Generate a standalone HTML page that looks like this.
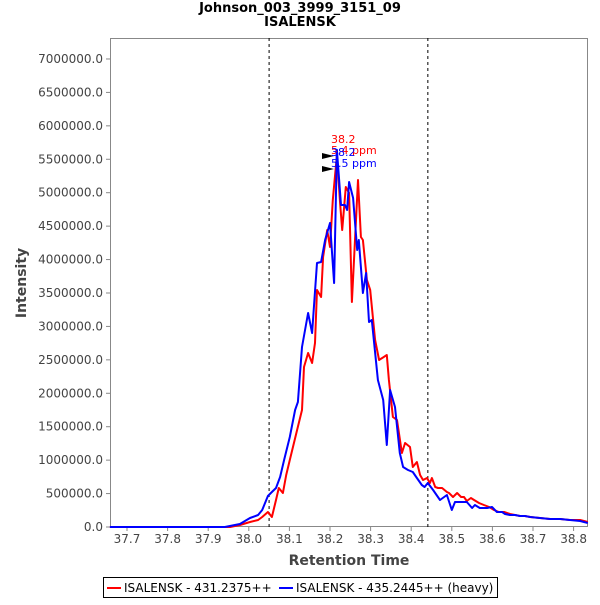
<!DOCTYPE html>
<html><head><meta charset="utf-8"><style>
body{margin:0;background:#fff;font-family:"Liberation Sans","DejaVu Sans",sans-serif}
</style></head><body>
<svg id="chart" width="600" height="600" xmlns="http://www.w3.org/2000/svg" font-family="DejaVu Sans, Liberation Sans, sans-serif">
<text x="300" y="12" text-anchor="middle" font-size="13" font-weight="bold">Johnson_003_3999_3151_09</text>
<text x="300" y="26" text-anchor="middle" font-size="13" font-weight="bold">ISALENSK</text>
<g id="plot"></g>
<text x="349" y="565" text-anchor="middle" font-size="14" font-weight="bold" fill="#444">Retention Time</text>
<text transform="translate(26,283) rotate(-90)" text-anchor="middle" font-size="14" font-weight="bold" fill="#444">Intensity</text>
<g>
<rect x="103.5" y="577.5" width="394" height="20" fill="#fff" stroke="#000"/>
<line x1="107" y1="588" x2="121" y2="588" stroke="#f00" stroke-width="2"/>
<text x="124" y="592" font-size="12" fill="#000">ISALENSK - 431.2375++</text>
<line x1="279" y1="588" x2="293" y2="588" stroke="#00f" stroke-width="2"/>
<text x="296" y="592" font-size="12" fill="#000">ISALENSK - 435.2445++ (heavy)</text>
</g>
</svg>
<script>
const xTicks=[37.7,37.8,37.9,38.0,38.1,38.2,38.3,38.4,38.5,38.6,38.7,38.8];
const yTicks=[0,500000,1000000,1500000,2000000,2500000,3000000,3500000,4000000,4500000,5000000,5500000,6000000,6500000,7000000];
const boundaries=[38.050,38.441];
const redT=[37.658,37.954,37.978,38.003,38.023,38.033,38.047,38.057,38.067,38.074,38.084,38.092,38.101,38.119,38.131,38.136,38.146,38.156,38.163,38.168,38.178,38.183,38.193,38.200,38.207,38.217,38.225,38.230,38.239,38.247,38.254,38.269,38.276,38.281,38.291,38.299,38.311,38.321,38.340,38.345,38.355,38.365,38.377,38.385,38.397,38.404,38.414,38.422,38.429,38.439,38.446,38.451,38.459,38.466,38.476,38.488,38.493,38.503,38.513,38.523,38.530,38.537,38.547,38.555,38.567,38.579,38.592,38.604,38.616,38.629,38.643,38.656,38.668,38.680,38.693,38.717,38.742,38.767,38.791,38.816,38.835];
const redI=[0,0,30000,75000,105000,150000,224000,150000,404000,583000,509000,778000,1002000,1451000,1750000,2393000,2603000,2453000,2752000,3545000,3440000,4038000,4442000,4188000,4891000,5560000,4846000,4442000,5085000,4996000,3365000,5190000,4338000,4293000,3694000,3545000,2797000,2498000,2573000,2199000,1645000,1600000,1107000,1256000,1197000,897000,972000,778000,703000,733000,658000,733000,598000,583000,583000,524000,509000,449000,509000,449000,449000,389000,434000,404000,359000,329000,299000,254000,224000,224000,194000,179000,165000,165000,150000,135000,120000,120000,105000,105000,75000];
const blueT=[37.658,37.941,37.978,38.003,38.023,38.033,38.047,38.057,38.067,38.077,38.087,38.101,38.114,38.121,38.131,38.146,38.156,38.168,38.178,38.188,38.200,38.210,38.217,38.227,38.237,38.242,38.247,38.257,38.267,38.271,38.281,38.289,38.296,38.303,38.318,38.331,38.340,38.348,38.360,38.372,38.380,38.392,38.404,38.414,38.426,38.433,38.441,38.454,38.471,38.488,38.500,38.508,38.525,38.537,38.550,38.557,38.569,38.587,38.599,38.611,38.624,38.631,38.643,38.656,38.668,38.680,38.693,38.717,38.742,38.767,38.791,38.816,38.835];
const blueI=[0,0,45000,135000,179000,254000,464000,524000,583000,748000,1002000,1346000,1750000,1870000,2692000,3201000,2902000,3949000,3964000,4293000,4547000,3650000,5640000,4816000,4816000,4741000,5160000,4921000,4143000,4293000,3500000,3799000,3066000,3096000,2199000,1900000,1226000,2049000,1795000,1107000,897000,853000,823000,733000,628000,598000,658000,553000,404000,479000,254000,374000,374000,374000,284000,329000,284000,284000,299000,224000,224000,194000,179000,179000,165000,165000,150000,135000,120000,120000,105000,90000,60000];
const annotations=[{t:38.2,label:"38.2",ppm:"5.4 ppm",color:"#f00"},{t:38.2,label:"38.2",ppm:"5.5 ppm",color:"#00f"}];

const L=110,R=588,T=38,B=527;
const X0=37.7,XPX0=127,XS=406;
const x=v=>XPX0+(v-X0)*XS;
const y=v=>B-v/500000*33.43;
const NS="http://www.w3.org/2000/svg";
const g=document.getElementById('plot');
function mk(tag,attrs,parent){const e=document.createElementNS(NS,tag);for(const k in attrs)e.setAttribute(k,attrs[k]);(parent||g).appendChild(e);return e;}

const frame=mk('rect',{x:L+0.5,y:T+0.5,width:R-L-1,height:B-T-1,fill:'#fff',stroke:'#888'});



yTicks.forEach(v=>{
  const t=mk('line',{x1:L-4,x2:L,y1:y(v),y2:y(v),stroke:'#888'});
  
  
  const l=mk('text',{x:L-7,y:y(v)+4,'text-anchor':'end','font-size':12,fill:'#444'});
  l.textContent=v.toFixed(1);
  
  
});
xTicks.forEach(v=>{
  const t=mk('line',{x1:x(v),x2:x(v),y1:B,y2:B+4,stroke:'#888'});
  
  
  const l=mk('text',{x:x(v),y:B+16,'text-anchor':'middle','font-size':12,fill:'#444'});
  l.textContent=v.toFixed(1);
  
  
});
boundaries.forEach(v=>{
  const d=mk('line',{x1:x(v),x2:x(v),y1:T,y2:B,stroke:'#000','stroke-dasharray':'3,3'});
  
  
});
function series(ts,is,color,name){
  const p=mk('polyline',{points:ts.map((t,i)=>x(t).toFixed(1)+','+y(is[i]).toFixed(1)).join(' '),fill:'none',stroke:color,'stroke-width':2,'stroke-linejoin':'round'});
  
  
}
series(redT,redI,'#f00','light-series-line');
series(blueT,blueI,'#00f','heavy-series-line');
annotations.forEach((a,i)=>{
  const ax=x(a.t)+1, base=143+i*13;
  const t1=mk('text',{x:ax,y:base,'font-size':11,fill:a.color});
  t1.textContent=a.label;
  
  
  const t2=mk('text',{x:ax,y:base+11,'font-size':11,fill:a.color});
  t2.textContent=a.ppm;
  
  
  const cy=base+13;
  const tri=mk('polygon',{points:`${ax-9},${cy-3} ${ax+3},${cy} ${ax-9},${cy+3}`,fill:'#000'});
  
  
});
</script>
</body></html>
